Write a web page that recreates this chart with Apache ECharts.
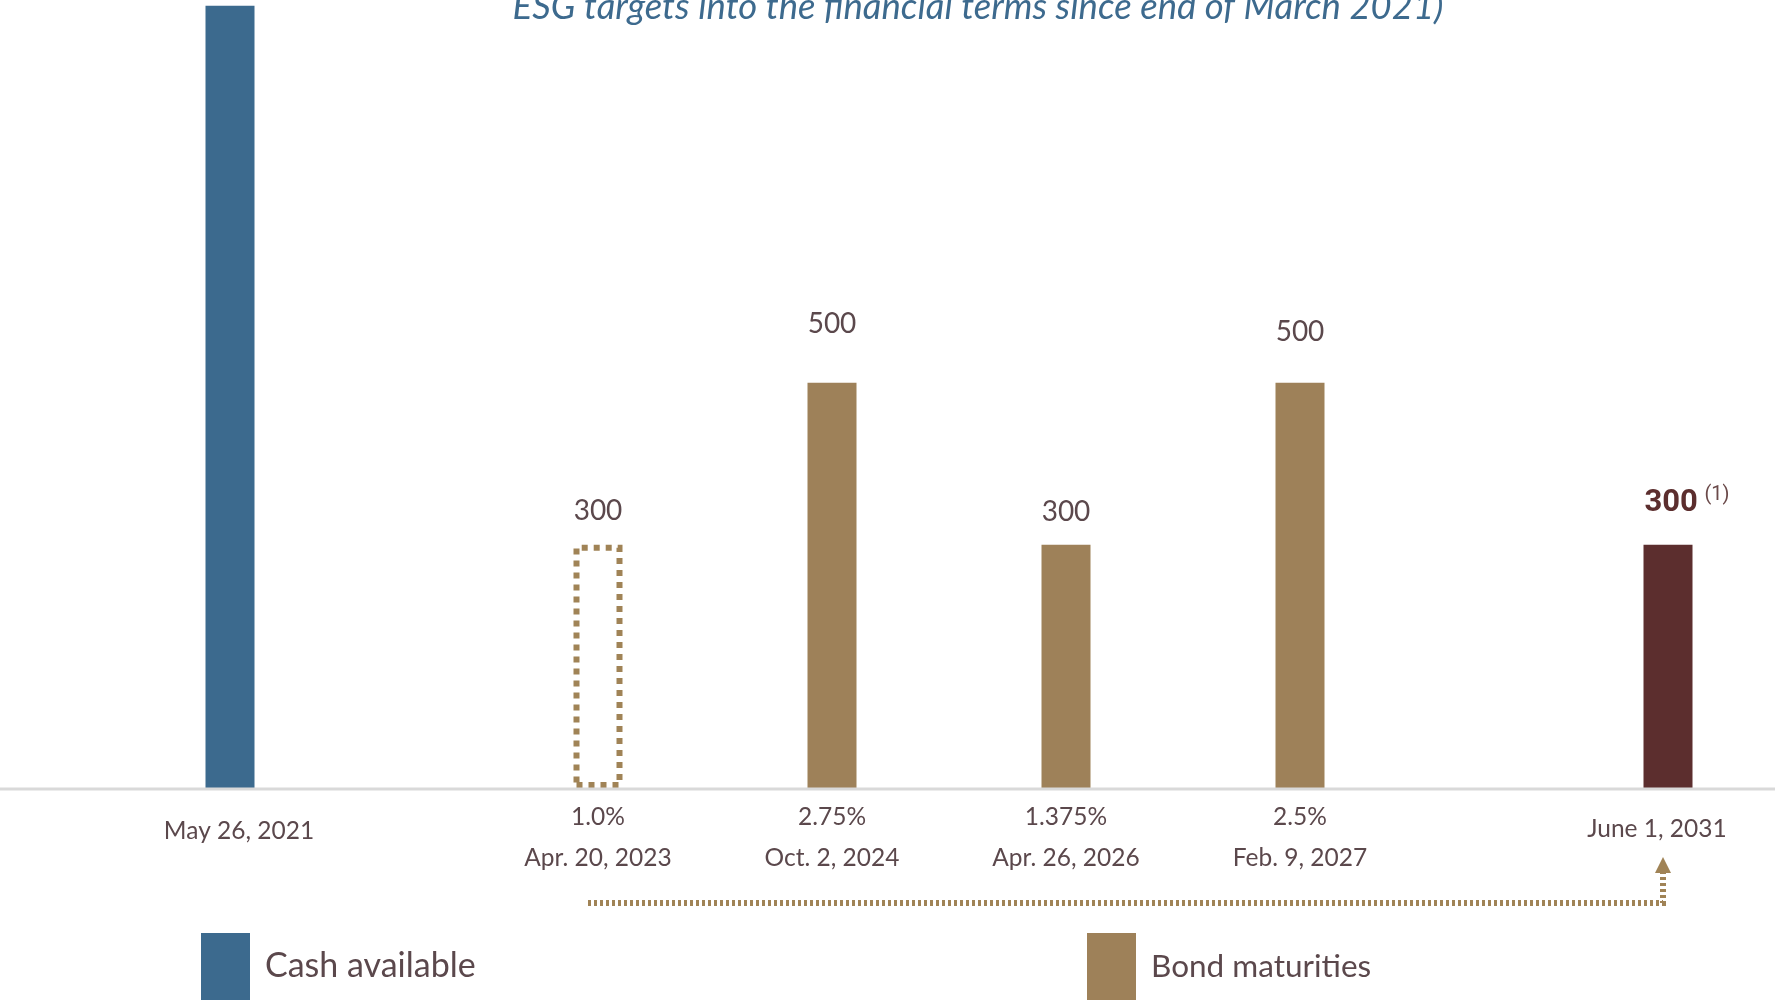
<!DOCTYPE html>
<html>
<head>
<meta charset="utf-8">
<script src="https://cdn.jsdelivr.net/npm/echarts@6/dist/echarts.min.js"></script>
<style>
  html, body { margin: 0; padding: 0; background: #fff; }
  #chart { width: 1775px; height: 1000px; }
</style>
</head>
<body>
<div id="chart"></div>
<script>
// data
const cashCategories = ['May 26, 2021']
const cashValues = [965]
const bondCategories = ['1.0%\nApr. 20, 2023', '2.75%\nOct. 2, 2024', '1.375%\nApr. 26, 2026', '2.5%\nFeb. 9, 2027']
const bondValues = [300, 500, 300, 500]
const newBondCategories = ['June 1, 2031']
const newBondValues = [300]
const refinancedIndex = 0

const textColor = '#5b484c'
const blue = '#3c6a8e'
const gold = '#9e8159'
const wine = '#5c2e2e'
const font = 'Lato'

const gridBase = { top: 0, bottom: 212, containLabel: false }

function xAxis(gridIndex, data, margin, padding) {
  return {
    type: 'category',
    gridIndex: gridIndex,
    data: data,
    axisLine: { show: false },
    axisTick: { show: false },
    axisLabel: {
      margin: margin,
      padding: padding || 0,
      color: textColor,
      fontFamily: font,
      fontSize: 24.5,
      lineHeight: 41,
      interval: 0
    }
  }
}
function yAxis(gridIndex) {
  return { type: 'value', gridIndex: gridIndex, min: 0, max: 972, show: false }
}

// manual label lifts like the text boxes in the original slide
const bondLabelGap = [20, 45, 19, 37]

const myChart = echarts.init(document.getElementById('chart'))
const option = {
  animation: false,
  grid: [
    Object.assign({ left: 0, width: 460 }, gridBase),
    Object.assign({ left: 481, width: 936 }, gridBase),
    Object.assign({ left: 1561, right: 0 }, gridBase)
  ],
  xAxis: [
    xAxis(0, cashCategories, 23, [0, 0, 0, 18]),
    xAxis(1, bondCategories, 9),
    xAxis(2, newBondCategories, 21, [0, 22, 0, 0])
  ],
  yAxis: [yAxis(0), yAxis(1), yAxis(2)],
  legend: [
    {
      data: ['Cash available'],
      left: 201, top: 933, padding: 0,
      icon: 'rect', itemWidth: 49, itemHeight: 67,
      selectedMode: false,
      textStyle: { color: textColor, fontFamily: font, fontSize: 34, padding: [0, 0, 0, 10] }
    },
    {
      data: ['Bond maturities'],
      left: 1087, top: 933, padding: 0,
      icon: 'rect', itemWidth: 49, itemHeight: 67,
      selectedMode: false,
      textStyle: { color: textColor, fontFamily: font, fontSize: 31.5, padding: [0, 0, 0, 10] }
    }
  ],
  series: [
    {
      name: 'Cash available',
      type: 'bar',
      xAxisIndex: 0, yAxisIndex: 0,
      barWidth: 49,
      itemStyle: { color: blue },
      data: cashValues
    },
    {
      name: 'Bond maturities',
      type: 'bar',
      xAxisIndex: 1, yAxisIndex: 1,
      barWidth: 49,
      itemStyle: { color: gold },
      label: {
        show: true,
        position: 'top',
        color: textColor,
        fontFamily: font,
        fontSize: 28
      },
      data: bondValues.map((v, i) => {
        const item = { value: v, label: { distance: bondLabelGap[i] } }
        if (i === refinancedIndex) {
          item.itemStyle = {
            color: 'rgba(0,0,0,0)',
            borderColor: '#a08356',
            borderWidth: 6,
            borderType: [6, 6]
          }
        }
        return item
      })
    },
    {
      name: 'New bond',
      type: 'bar',
      xAxisIndex: 2, yAxisIndex: 2,
      barWidth: 49,
      itemStyle: { color: wine },
      label: {
        show: true,
        position: 'top',
        distance: 24,
        offset: [19, 0],
        formatter: '{b|{c}}  {s|(1)}',
        rich: {
          b: { color: wine, fontFamily: 'Roboto', fontWeight: 'bold', fontSize: 31 },
          s: { color: '#6b4a4a', fontFamily: 'Roboto', fontSize: 20, padding: [0, 0, 16, 0] }
        }
      },
      data: newBondValues
    }
  ]
}
myChart.setOption(option)

// base line, title cut off at the top, and the dotted refinancing arrow
const baseY = myChart.convertToPixel({ yAxisIndex: 0 }, 0)
const x0 = myChart.convertToPixel({ xAxisIndex: 1 }, bondCategories[refinancedIndex]) - 10
const x1 = myChart.convertToPixel({ xAxisIndex: 2 }, newBondCategories[0]) - 5
myChart.setOption({
  graphic: [
    {
      type: 'line',
      z: 10,
      shape: { x1: 0, y1: baseY + 1, x2: 1775, y2: baseY + 1 },
      style: { stroke: '#d9d9d9', lineWidth: 3 }
    },
    {
      type: 'text',
      x: 978, y: 7,
      style: {
        text: 'ESG targets into the financial terms since end of March 2021)',
        align: 'center',
        verticalAlign: 'middle',
        fill: '#3d6a8e',
        font: 'italic 36.5px Lato'
      }
    },
    {
      type: 'polyline',
      shape: { points: [[x0, 903], [x1, 903], [x1, 872]] },
      style: { stroke: '#a08356', lineWidth: 6, lineDash: [3, 3], fill: null }
    },
    {
      type: 'polygon',
      shape: { points: [[x1 - 8, 873], [x1 + 8, 873], [x1, 857]] },
      style: { fill: '#a08356' }
    }
  ]
})
</script>
</body>
</html>
